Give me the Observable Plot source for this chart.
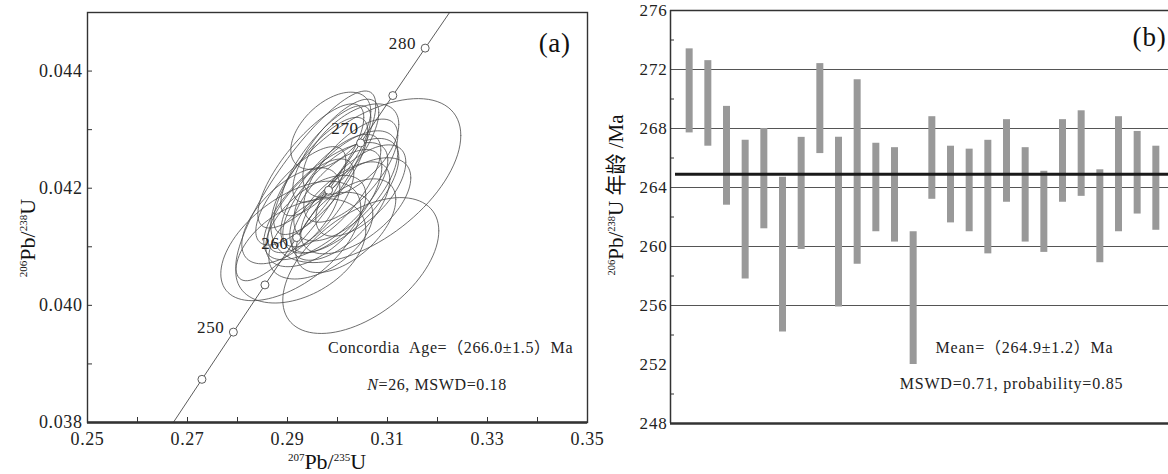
<!DOCTYPE html>
<html><head><meta charset="utf-8">
<script src="https://cdn.jsdelivr.net/npm/d3@7"></script>
<script src="https://cdn.jsdelivr.net/npm/@observablehq/plot@0.6"></script>
<style>
html,body{margin:0;padding:0;background:#fff;overflow:hidden;}
#wrap{position:relative;width:1168px;height:474px;overflow:hidden;background:#fff;}
#pa{position:absolute;left:0;top:0;width:610px;height:474px;z-index:2;}
#pb{position:absolute;left:595px;top:0;width:585px;height:474px;z-index:1;}
svg{max-width:none !important;}
svg text, svg tspan{font-family:'Liberation Serif','Noto Sans CJK SC',serif;}
</style></head><body>
<div id="wrap"><div id="pb"></div><div id="pa"></div></div>
<script>
// ---------- Panel (a): concordia diagram ----------
const ellipseCx  = [0.30566,0.30466,0.29066,0.29266,0.29366,0.29866,0.29966,0.29666,0.30166,0.29466,0.30066,0.29766,0.30266,0.29566,0.30366,0.29266,0.29966,0.30166,0.29666,0.30466,0.29866,0.29466,0.30066,0.29066,0.30266,0.29766];
const ellipseCy  = [0.04213,0.04068,0.04110,0.04093,0.04204,0.04196,0.04178,0.04221,0.04204,0.04170,0.04161,0.04247,0.04230,0.04144,0.04170,0.04187,0.04264,0.04136,0.04119,0.04196,0.04298,0.04238,0.04187,0.04153,0.04264,0.04178];
const ellipseSx  = [0.0190,0.0156,0.0140,0.0130,0.0140,0.0100,0.0092,0.0094,0.0104,0.0086,0.0098,0.0090,0.0094,0.0100,0.0110,0.0090,0.0086,0.0100,0.0104,0.0090,0.0080,0.0106,0.0116,0.0098,0.0096,0.0124];
const ellipseSy  = [0.00140,0.00116,0.00102,0.00089,0.00162,0.00096,0.00088,0.00100,0.00094,0.00080,0.00084,0.00094,0.00088,0.00078,0.00082,0.00084,0.00088,0.00080,0.00074,0.00078,0.00066,0.00106,0.00098,0.00082,0.00080,0.00100];
const ellipseRho = [0.55,0.51,0.55,0.40,0.85,0.72,0.66,0.76,0.62,0.70,0.64,0.78,0.68,0.56,0.58,0.72,0.74,0.56,0.50,0.62,0.50,0.78,0.66,0.60,0.56,0.70];

const concordiaAge = [240,245,250,255,260,265,270,275,280,285];
const concordiaX   = [0.266635,0.272887,0.279172,0.285488,0.291834,0.298210,0.304620,0.311060,0.317532,0.324040];
const concordiaY   = [0.037932,0.038737,0.039543,0.040349,0.041157,0.041965,0.042773,0.043582,0.044392,0.045202];
const markerAges   = [245,250,255,260,265,270,275,280];
const labelAges    = [250,260,270,280];

const xTicksA = [0.25,0.27,0.29,0.31,0.33,0.35];
const xMinorA = [0.26,0.27,0.28,0.29,0.30,0.31,0.32,0.33,0.34];
const yTicksA = [0.038,0.040,0.042,0.044];
const yMinorA = [0.039,0.040,0.041,0.042,0.043,0.044];

// ---------- Panel (b): weighted mean ages ----------
const spotIndex = d3.range(1, 27);
const ageHigh = [273.4,272.6,269.5,267.2,268.0,264.7,267.4,272.4,267.4,271.3,267.0,266.7,261.0,268.8,266.8,266.6,267.2,268.6,266.7,265.1,268.6,269.2,265.2,268.8,267.8,266.8];
const ageLow  = [267.7,266.8,262.8,257.8,261.2,254.2,259.8,266.3,255.9,258.8,261.0,260.3,252.0,263.2,261.6,261.0,259.5,263.0,260.3,259.6,263.0,263.4,258.9,261.0,262.2,261.1];
const meanAge = 264.9;
const yTicksB = [248,252,256,260,264,268,272,276];
const yMinorB = [250,254,258,262,266,270,274];
const gridB   = [256,260,264,268,272];

const FONT = "'Liberation Serif','Noto Sans CJK SC',serif";
const INK = "#333";

// ellipse outlines from centre, 2-sigma half widths and correlation
const ellipsePts = [];
ellipseCx.forEach((cx, i) => {
  const sx = ellipseSx[i], sy = ellipseSy[i], r = ellipseRho[i], q = Math.sqrt(1 - r * r);
  for (let k = 0; k <= 96; k++) {
    const t = 2 * Math.PI * k / 96;
    ellipsePts.push({id: i, x: cx + sx * Math.cos(t), y: ellipseCy[i] + sy * (r * Math.cos(t) + q * Math.sin(t))});
  }
});
const concordia = concordiaAge.map((a, i) => ({age: a, x: concordiaX[i], y: concordiaY[i]}));
const markers = concordia.filter(d => markerAges.includes(d.age));
const labels = concordia.filter(d => labelAges.includes(d.age));

const plotA = Plot.plot({
  width: 610, height: 474,
  marginLeft: 87, marginRight: 23, marginTop: 12, marginBottom: 52,
  x: {domain: [0.25, 0.35]},
  y: {domain: [0.038, 0.045]},
  style: {fontFamily: FONT, fontSize: "18px", color: "#222", background: "transparent"},
  marks: [
    Plot.line(ellipsePts, {x: "x", y: "y", z: "id", stroke: "#4a4a4a", strokeWidth: 0.8, clip: true}),
    Plot.line(concordia, {x: "x", y: "y", stroke: "#4a4a4a", strokeWidth: 0.9, clip: true}),
    Plot.dot(markers, {x: "x", y: "y", r: 4, fill: "#fff", stroke: "#4a4a4a", strokeWidth: 0.9}),
    Plot.text(labels.filter(d => d.age === 250 || d.age === 280), {x: "x", y: "y", text: d => String(d.age), textAnchor: "end", dx: -9, dy: -5, fontSize: 17, fill: "#222"}),
    Plot.text(labels.filter(d => d.age === 260), {x: "x", y: "y", text: d => String(d.age), textAnchor: "end", dx: -8, dy: 6, fontSize: 17, fill: "#222"}),
    Plot.text(labels.filter(d => d.age === 270), {x: "x", y: "y", text: d => String(d.age), textAnchor: "end", dx: -2, dy: -14, fontSize: 17, fill: "#222"}),
    Plot.frame({stroke: INK, strokeWidth: 1.4}),
    Plot.ruleY([0.038], {stroke: INK, strokeWidth: 2.5}),
    Plot.tickX(xMinorA, {x: d => d, insetTop: 405, stroke: INK, strokeWidth: 1}),
    Plot.tickY(yMinorA, {y: d => d, insetRight: 495, stroke: INK, strokeWidth: 1}),
    Plot.axisX({ticks: xTicksA, tickFormat: d3.format(".2f"), tickSize: 0, tickPadding: 10, label: null, fontSize: 18, fill: "#222"}),
    Plot.axisY({ticks: yTicksA, tickFormat: d3.format(".3f"), tickSize: 0, tickPadding: 5, label: null, fontSize: 18, fill: "#222"}),
    Plot.text(["(a)"], {frameAnchor: "top-right", dx: -17, dy: 31, lineAnchor: "middle", fontSize: 27, fill: "#111"}),
    Plot.text(["Concordia\u00a0\u00a0Age=（266.0±1.5）Ma"], {frameAnchor: "bottom", dx: 113, dy: -75, lineAnchor: "middle", fontSize: 16, fill: "#222"})
  ]
});
plotA.style.letterSpacing = "0.6px";
document.getElementById("pa").appendChild(plotA);

const plotB = Plot.plot({
  width: 585, height: 474,
  marginLeft: 75, marginRight: 6, marginTop: 10, marginBottom: 51,
  x: {domain: [0, 27], axis: null},
  y: {domain: [248, 276]},
  style: {fontFamily: FONT, fontSize: "17px", color: "#222", background: "transparent"},
  marks: [
    Plot.ruleY(gridB, {stroke: "#555", strokeWidth: 1}),
    Plot.ruleX(spotIndex, {x: d => d, y1: (d, i) => ageLow[i], y2: (d, i) => ageHigh[i], stroke: "#999", strokeWidth: 7}),
    Plot.ruleY([meanAge], {stroke: "#1a1a1a", strokeWidth: 3, insetLeft: 5}),
    Plot.ruleY([276], {stroke: INK, strokeWidth: 1.5}),
    Plot.ruleY([248], {stroke: INK, strokeWidth: 2.5}),
    Plot.ruleX([0], {stroke: INK, strokeWidth: 1.5}),
    Plot.tickY(yMinorB, {y: d => d, insetRight: 500, stroke: INK, strokeWidth: 1}),
    Plot.axisY({ticks: yTicksB, tickSize: 0, tickPadding: 3, label: null, fontSize: 17, fill: "#222"}),
    Plot.text(["(b)"], {frameAnchor: "top-right", dx: -8, dy: 27, lineAnchor: "middle", fontSize: 27, fill: "#111"}),
    Plot.text(["Mean=（264.9±1.2）Ma"], {frameAnchor: "bottom", dx: 102, dy: -76, lineAnchor: "middle", fontSize: 16, fill: "#222"}),
    Plot.text(["MSWD=0.71, probability=0.85"], {frameAnchor: "bottom", dx: 89, dy: -40, lineAnchor: "middle", fontSize: 16, fill: "#222"})
  ]
});
plotB.style.letterSpacing = "0.8px";
document.getElementById("pb").appendChild(plotB);

// axis titles with superscripts
function title(svg, x, y, rot, parts, size) {
  const t = d3.select(svg).append("text")
    .attr("transform", `translate(${x},${y}) rotate(${rot})`)
    .attr("text-anchor", "middle").attr("fill", "#111")
    .style("letter-spacing", "0px");
  let shift = 0;
  for (const [s, sup] of parts) {
    const target = sup ? -size * 0.38 : 0;
    t.append("tspan").attr("dy", target - shift).attr("font-size", sup ? size * 0.5 : size).text(s);
    shift = target;
  }
  return t;
}
title(plotA, 327, 469, 0, [["207", 1], ["Pb/", 0], ["235", 1], ["U", 0]], 22);
title(plotA, 35, 238, -90, [["206", 1], ["Pb/", 0], ["238", 1], ["U", 0]], 22);
title(plotB, 28, 195, -90, [["206", 1], ["Pb/", 0], ["238", 1], ["U 年龄 /Ma", 0]], 21);

// N=26, MSWD=0.18 (italic N)
const nt = d3.select(plotA).append("text")
  .attr("x", 437).attr("y", 384).attr("dy", "0.35em")
  .attr("text-anchor", "middle").attr("font-size", 16).attr("fill", "#222");
nt.append("tspan").attr("font-style", "italic").text("N");
nt.append("tspan").text("=26, MSWD=0.18");
</script>
</body></html>
